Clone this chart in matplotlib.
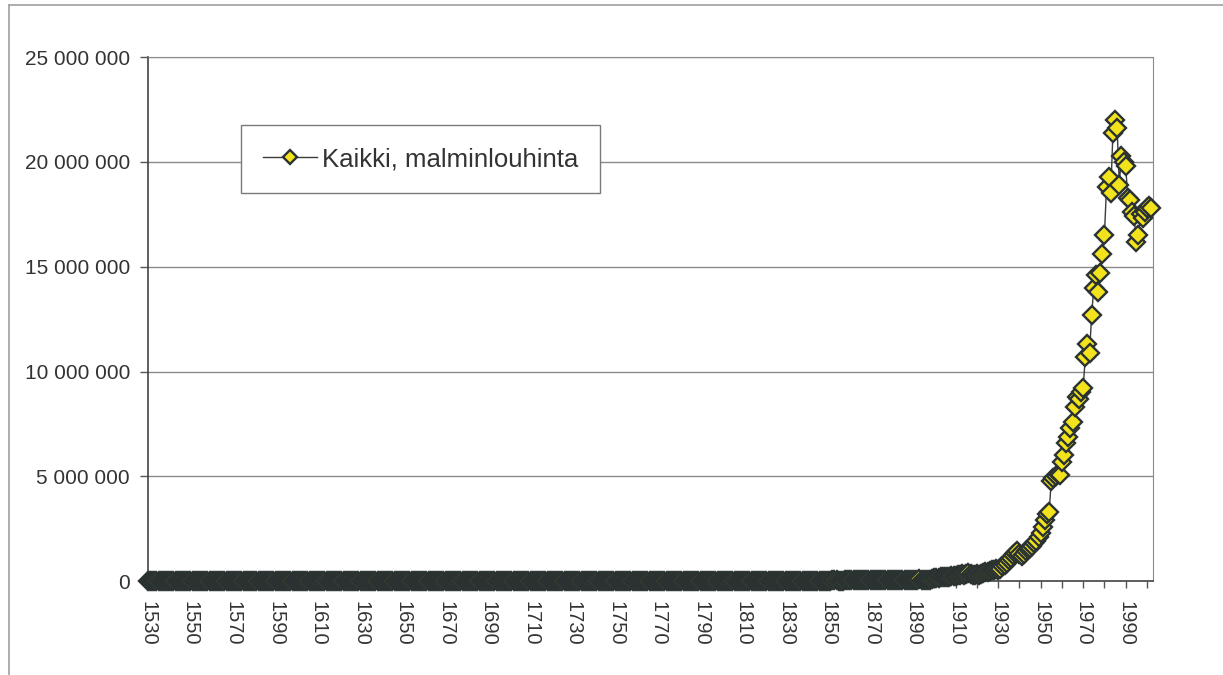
import matplotlib as mpl
import matplotlib.pyplot as plt
import numpy as np
from matplotlib.lines import Line2D

plt.rcParams['font.family'] = ['Liberation Sans', 'DejaVu Sans']

# Kaikki, malminlouhinta (tonnes per year), 1530-2002
# 1530-1899, ten years per row
ore_early = [
    300, 300, 400, 400, 500, 500, 400, 400, 500, 600,
    600, 700, 700, 800, 800, 900, 900, 800, 800, 900,
    1000, 1000, 1100, 1200, 1100, 1000, 1000, 1200, 1300, 1300,
    1200, 1100, 1000, 900, 900, 1000, 1100, 1100, 1200, 1200,
    1300, 1400, 1400, 1500, 1400, 1300, 1300, 1400, 1500, 1600,
    1600, 1700, 1700, 1600, 1500, 1500, 1600, 1700, 1800, 1800,
    1900, 2000, 2000, 2100, 2000, 1900, 1800, 1800, 1900, 2000,
    2100, 2200, 2300, 2300, 2200, 2100, 2000, 2000, 2100, 2200,
    2300, 2400, 2500, 2500, 2400, 2300, 2200, 2300, 2400, 2500,
    2600, 2700, 2700, 2800, 2900, 2800, 2700, 2600, 2600, 2700,
    2800, 2900, 3000, 3100, 3000, 2900, 2800, 2900, 3000, 3100,
    3200, 3300, 3300, 3400, 3500, 3400, 3300, 3200, 3300, 3400,
    3500, 3600, 3700, 3800, 3700, 3600, 3500, 3600, 3700, 3800,
    3900, 4000, 4100, 4000, 3900, 3800, 3900, 4000, 4100, 4200,
    4300, 4400, 4500, 4400, 4300, 4200, 4300, 4400, 4500, 4600,
    4700, 4800, 4900, 5000, 4900, 4800, 4700, 4800, 4900, 5000,
    5100, 5200, 5300, 5400, 5300, 5200, 5100, 5200, 5300, 5400,
    5500, 5600, 5700, 5800, 5700, 5600, 5500, 5600, 5700, 5800,
    5900, 6000, 6100, 6200, 6100, 6000, 5900, 6000, 6100, 6200,
    6300, 6400, 6500, 6600, 6500, 6400, 6300, 6400, 6500, 6600,
    6700, 6800, 6900, 7000, 6900, 6800, 6700, 6800, 6900, 7000,
    7100, 7200, 7300, 7400, 7300, 7200, 7100, 7200, 7300, 7400,
    7500, 7600, 7700, 7800, 7700, 7600, 7500, 7600, 7700, 7800,
    7900, 8000, 8100, 8200, 8100, 8000, 7900, 8000, 8100, 8200,
    8300, 8400, 8500, 8600, 8500, 8400, 8300, 8400, 8500, 8600,
    8700, 8800, 8900, 9000, 8900, 8800, 8700, 8800, 8900, 9000,
    9200, 9400, 9600, 9800, 9600, 9400, 9200, 9400, 9600, 9800,
    10000, 10500, 11000, 11500, 11000, 10500, 10000, 10500, 11000, 11500,
    12000, 12500, 13000, 13500, 13000, 12500, 12000, 12500, 13000, 13500,
    14000, 15000, 16000, 17000, 16000, 15000, 14000, 15000, 16000, 17000,
    18000, 19000, 20000, 21000, 20000, 19000, 18000, 19000, 20000, 21000,
    22000, 24000, 26000, 28000, 26000, 24000, 22000, 24000, 26000, 28000,
    30000, 32000, 34000, 36000, 34000, 32000, 30000, 32000, 34000, 36000,
    38000, 40000, 42000, 44000, 42000, 40000, 38000, 40000, 42000, 44000,
    46000, 48000, 50000, 52000, 50000, 48000, 46000, 48000, 50000, 52000,
    55000, 58000, 61000, 64000, 61000, 58000, 55000, 58000, 61000, 64000,
    68000, 72000, 76000, 80000, 76000, 72000, 68000, 72000, 76000, 80000,
]
# 1900-2002, thousand tonnes
ore_late_kt = [
    150, 160, 170, 180, 190, 200, 210, 220, 240, 250,
    270, 290, 300, 320, 300, 340, 370, 350, 300, 290,
    330, 300, 340, 390, 440, 460, 490, 510, 540, 580,
    550, 600, 700, 750, 850, 1000, 1100, 1250, 1350, 1450,
    1300, 1200, 1300, 1450, 1550, 1600, 1700, 1800, 1900, 2100,
    2300, 2600, 2900, 3200, 3300, 4800, 4900, 5000, 5100, 5050,
    5700, 6000, 6600, 6900, 7300, 7600, 8300, 8800, 8700, 9000,
    9200, 10700, 11300, 10900, 12700, 14000, 14600, 13800, 14700, 15600,
    16500, 18800, 19300, 18500, 21400, 22000, 21600, 18900, 20300, 20000,
    19800, 18300, 18200, 17600, 17400, 16200, 16500, 17500, 17300, 17600,
    17800, 17900, 17800,
]

values = np.array(ore_early + [v * 1000 for v in ore_late_kt], dtype=float)
years = np.arange(1530, 1530 + len(values))

label_years = list(range(1530, 2000, 20))
y_ticks = [0, 5000000, 10000000, 15000000, 20000000, 25000000]

fig = plt.figure(figsize=(12.23, 6.75), dpi=100)
ax = fig.add_axes([0.121, 0.139, 0.822, 0.7765])

ax.plot(years, values, color='#3c3c3c', linewidth=1, marker='D', markersize=9.5,
        markerfacecolor='#f3e31d', markeredgecolor='#2a3232', markeredgewidth=1.7,
        clip_on=False, label='Kaikki, malminlouhinta', zorder=3)

ax.set_xlim(1530, 2003)
ax.set_ylim(0, 25000000)

ax.set_yticks(y_ticks)
ax.set_yticklabels([f"{v:,}".replace(",", " ") for v in y_ticks])
ax.yaxis.grid(True, color='#8a8a8a', linewidth=1)
ax.set_axisbelow(True)

ax.set_xticks(label_years)
ax.set_xticklabels([str(y) for y in label_years], rotation=-90)
ax.xaxis.set_minor_locator(mpl.ticker.MultipleLocator(10))

ax.tick_params(axis='y', which='major', length=6, width=1, color='#555555',
               pad=7, labelsize=15, labelcolor='#333333')
ax.tick_params(axis='x', which='both', length=5, width=1, color='#555555',
               pad=9, labelsize=14.5, labelcolor='#333333')

for side in ['top', 'right']:
    ax.spines[side].set_color('#8a8a8a')
for side in ['left', 'bottom']:
    ax.spines[side].set_color('#444444')
    ax.spines[side].set_linewidth(1.2)

leg = ax.legend(loc='upper left', bbox_to_anchor=(0.0925, 0.870), borderaxespad=0,
                fontsize=18.5, fancybox=False, framealpha=1, edgecolor='#7a7a7a',
                handlelength=2.1, handletextpad=0.2, borderpad=0.85, markerscale=0.75)
leg.get_frame().set_linewidth(1)
for t in leg.get_texts():
    t.set_color('#333333')

# outer chart border
fig.add_artist(Line2D([9 / 1223, 9 / 1223], [0, 1 - 5 / 675], color='#a0a0a0', lw=1.2))
fig.add_artist(Line2D([9 / 1223, 1], [1 - 5 / 675, 1 - 5 / 675], color='#a0a0a0', lw=1.2))

plt.savefig('out.png', dpi=100)
